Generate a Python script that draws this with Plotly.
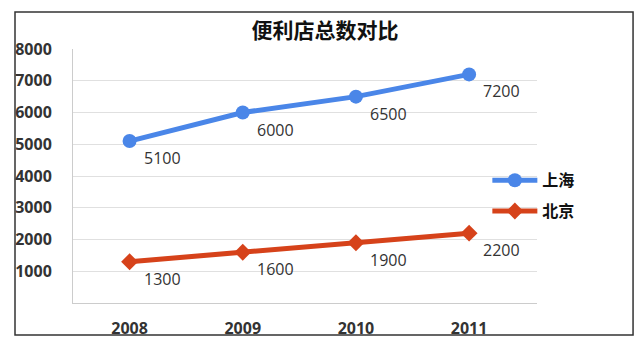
import plotly.graph_objects as go

years = ["2008", "2009", "2010", "2011"]
shanghai = [5100, 6000, 6500, 7200]
beijing = [1300, 1600, 1900, 2200]
y_ticks = [1000, 2000, 3000, 4000, 5000, 6000, 7000, 8000]

blue = "rgb(74,134,232)"
red = "rgb(214,66,26)"
cjk = "Noto Sans CJK SC, sans-serif"
latin = "Open Sans, sans-serif"

fig = go.Figure()
for name, vals, color, symbol, msize, grp in [
    ("上海", shanghai, blue, "circle", 14, "sh"),
    ("北京", beijing, red, "diamond", 13, "bj"),
]:
    fig.add_trace(go.Scatter(
        x=years, y=vals, name=name, legendgroup=grp,
        mode="lines+markers",
        line=dict(color=color, width=5),
        marker=dict(symbol=symbol, size=msize, color=color),
    ))
    # value labels sit below and to the right of each point
    for i, v in enumerate(vals):
        fig.add_annotation(
            x=i, y=v, text=str(v), showarrow=False,
            xanchor="left", yanchor="top", xshift=12, yshift=-4,
            font=dict(size=16, color="#333333", family=latin),
        )

# Outer frame around the whole chart
fig.add_shape(type="rect", xref="paper", yref="paper",
              x0=-0.125, x1=1.207, y0=-0.126, y1=1.146,
              line=dict(color="#333333", width=1.5))

fig.update_layout(
    width=642, height=350,
    margin=dict(l=73, r=105, t=49, b=47),
    paper_bgcolor="white", plot_bgcolor="white",
    font=dict(family=cjk),
    title=dict(text="<b>便利店总数对比</b>", x=0.543, xanchor="center",
               xref="paper", y=0.912, yanchor="middle",
               font=dict(size=21, color="#111111", family=cjk)),
    showlegend=True,
    legend=dict(x=0.893, y=0.55, xanchor="left", yanchor="top",
                itemwidth=45,
                font=dict(size=16, color="#111111", family=cjk, weight="bold"),
                tracegroupgap=7, bgcolor="rgba(0,0,0,0)"),
    xaxis=dict(type="category", range=[-0.5, 3.6], showgrid=False,
               showline=True, linecolor="#cccccc", linewidth=1,
               ticks="", ticklabelstandoff=11,
               tickfont=dict(size=16, color="#333333", family=latin,
                             weight="bold")),
    yaxis=dict(range=[0, 8000], tickvals=y_ticks,
               showgrid=True, gridcolor="#e0e0e0", gridwidth=1,
               showline=True, linecolor="#cccccc", linewidth=1,
               zeroline=False, ticks="", ticklabelstandoff=17,
               tickfont=dict(size=16, color="#333333", family=latin,
                             weight="bold")),
)

fig.write_html("out.html")
